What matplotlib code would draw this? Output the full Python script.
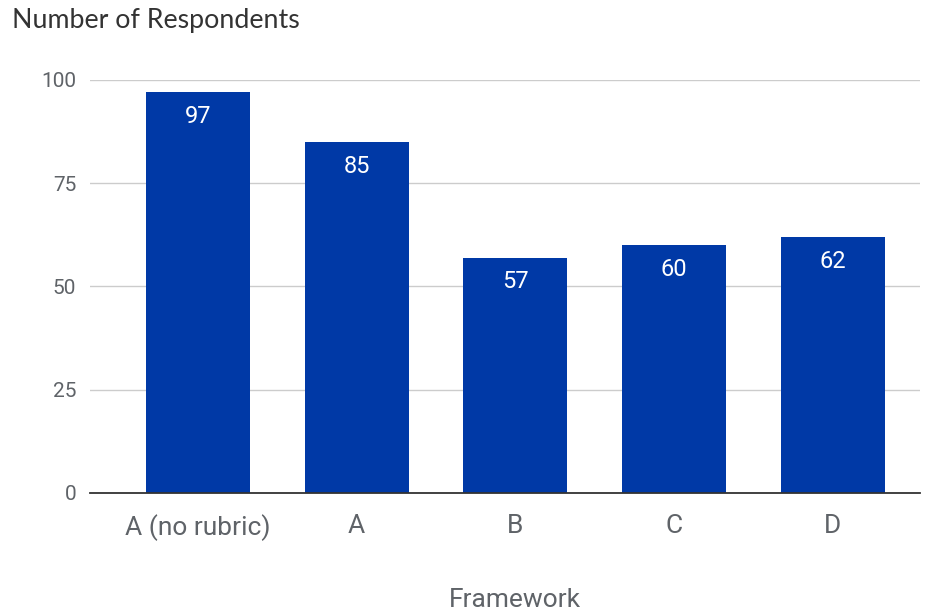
import matplotlib.pyplot as plt

frameworks = ["A (no rubric)", "A", "B", "C", "D"]
respondents = [97, 85, 57, 60, 62]
y_ticks = [0, 25, 50, 75, 100]

bar_color = "#0039a6"
tick_color = "#5f6368"

fig = plt.figure(figsize=(9.34, 6.15), dpi=100)
ax = fig.add_axes([0.0964, 0.1984, 0.8886, 0.6716])

x = list(range(len(frameworks)))
bars = ax.bar(x, respondents, width=0.655, color=bar_color, zorder=3)

for rect, val in zip(bars, respondents):
    ax.annotate(str(val), (rect.get_x() + rect.get_width() / 2, val),
                xytext=(0, -17.5), textcoords="offset points",
                ha="center", va="center", color="white",
                fontsize=17, family="Roboto", zorder=4)

ax.set_xlim(-0.68, 4.55)
ax.set_ylim(0, 100)
ax.set_yticks(y_ticks)
ax.set_xticks(x)
ax.set_xticklabels(frameworks)
ax.grid(axis="y", color="#cccccc", linewidth=1, zorder=0)
for side in ["top", "right", "left"]:
    ax.spines[side].set_visible(False)
ax.spines["bottom"].set_color("#333333")
ax.spines["bottom"].set_linewidth(1.3)
ax.spines["bottom"].set_zorder(5)

ax.tick_params(axis="y", length=0, pad=10, labelsize=15, labelcolor=tick_color)
ax.tick_params(axis="x", length=0, pad=15, labelsize=19, labelcolor=tick_color)
for lbl in ax.get_xticklabels() + ax.get_yticklabels():
    lbl.set_family("Roboto")

fig.text(0.013, 0.967, "Number of Respondents", ha="left", va="center",
         fontsize=19.3, family="Lato", color="#333333")
fig.text(0.551, 0.024, "Framework", ha="center", va="center",
         fontsize=19, family="Roboto", color=tick_color)

fig.savefig("out.png", dpi=100)
